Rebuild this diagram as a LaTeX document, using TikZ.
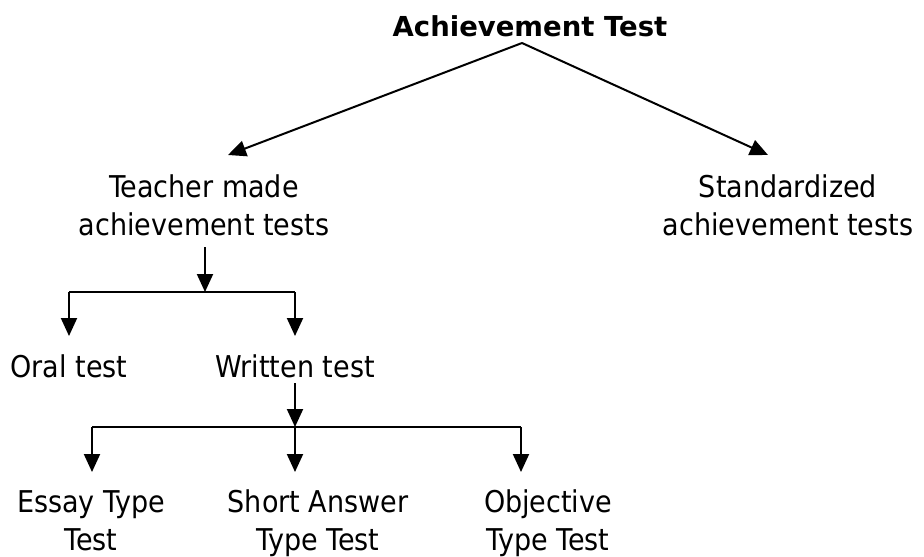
\documentclass[tikz,border=0pt]{standalone}
\usepackage{fontspec}
\setmainfont{DejaVu Sans Condensed}
\newfontfamily\headfont{DejaVu Sans}
\usetikzlibrary{arrows.meta}

\begin{document}
\begin{tikzpicture}[x=1pt,y=-1pt,
  label/.style={inner sep=0pt, align=center, anchor=base,
                font=\fontsize{30}{38}\selectfont},
  head/.style={inner sep=0pt, anchor=base,
               font=\headfont\bfseries\fontsize{27.5}{32}\selectfont},
  link/.style={line width=2pt},
  arr/.style={link, -{Triangle[length=18pt,width=16pt]}}]

\useasboundingbox (0,0) rectangle (924,557);

% root (base anchor = baseline of the last line)
\node[head] (root) at (530,36) {Achievement Test};
\coordinate (apex) at (522,43);

% first level
\node[label] (teacher) at (204,235) {Teacher made\\achievement tests};
\node[label] (std) at (788,235) {Standardized\\achievement tests};
\coordinate (tl) at (228,155);
\coordinate (tr) at (768,155);
\draw[arr] (apex) -- (tl);
\draw[arr] (apex) -- (tr);

% teacher made branch
\coordinate (ta) at (205,247);
\coordinate (tj) at (205,292);
\coordinate (oj) at (69,292);
\coordinate (wj) at (295,292);
\coordinate (ot) at (69,336);
\coordinate (wt) at (295,336);
\node[label] (oral) at (69,377) {Oral test};
\node[label] (written) at (295,377) {Written test};
\draw[arr] (ta) -- (tj);
\draw[link] (oj) -- (wj);
\draw[arr] (oj) -- (ot);
\draw[arr] (wj) -- (wt);

% written test branch
\coordinate (wa) at (295,383);
\coordinate (wm) at (295,427);
\coordinate (ej) at (92,427);
\coordinate (bj) at (521,427);
\coordinate (et) at (92,472);
\coordinate (st) at (295,472);
\coordinate (bt) at (521,472);
\node[label] (essay) at (91,550) {Essay Type\\Test};
\node[label] (short) at (318,550) {Short Answer\\Type Test};
\node[label] (obj) at (548,550) {Objective\\Type Test};
\draw[arr] (wa) -- (wm);
\draw[link] (ej) -- (bj);
\draw[arr] (ej) -- (et);
\draw[arr] (wm) -- (st);
\draw[arr] (bj) -- (bt);
\end{tikzpicture}
\end{document}
